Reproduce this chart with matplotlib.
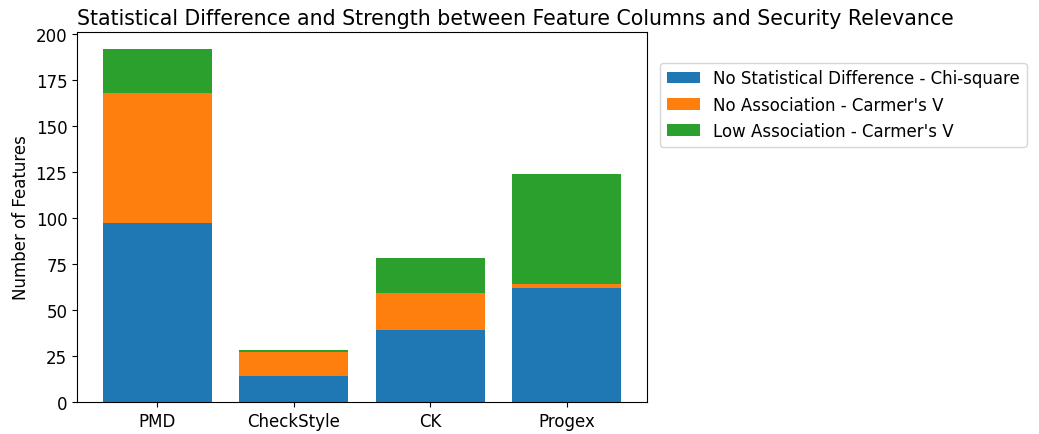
import matplotlib
matplotlib.use("Agg")
import matplotlib.pyplot as plt
import numpy as np

categories = ["PMD", "CheckStyle", "CK", "Progex"]
no_stat_diff = [97, 14, 39, 62]
no_assoc = [71, 13, 20, 2]
low_assoc = [24, 1, 19, 60]
labels = ["No Statistical Difference - Chi-square",
          "No Association - Carmer's V",
          "Low Association - Carmer's V"]

plt.rcParams['font.family'] = ['DejaVu Sans']
plt.rcParams['font.size'] = 12

fig = plt.figure(figsize=(10.39, 4.35), dpi=100)
ax = fig.add_axes([77/1039, 1 - 403/435, (647-77)/1039, (403-33)/435])

x = np.arange(len(categories))
b1 = np.array(no_stat_diff)
b2 = np.array(no_assoc)
b3 = np.array(low_assoc)
ax.bar(x, b1, color="#1f77b4", label=labels[0])
ax.bar(x, b2, bottom=b1, color="#ff7f0e", label=labels[1])
ax.bar(x, b3, bottom=b1 + b2, color="#2ca02c", label=labels[2])
ax.set_xticks(x)
ax.set_xticklabels(categories)
ax.set_ylim(0, 201)
ax.set_yticks([0, 25, 50, 75, 100, 125, 150, 175, 200])
ax.set_ylabel("Number of Features")
ax.set_title("Statistical Difference and Strength between Feature Columns and Security Relevance", loc="left", fontsize=14.8)
ax.legend(loc="upper left", bbox_to_anchor=(1.008, 0.94))

fig.savefig("out.png", dpi=100)
